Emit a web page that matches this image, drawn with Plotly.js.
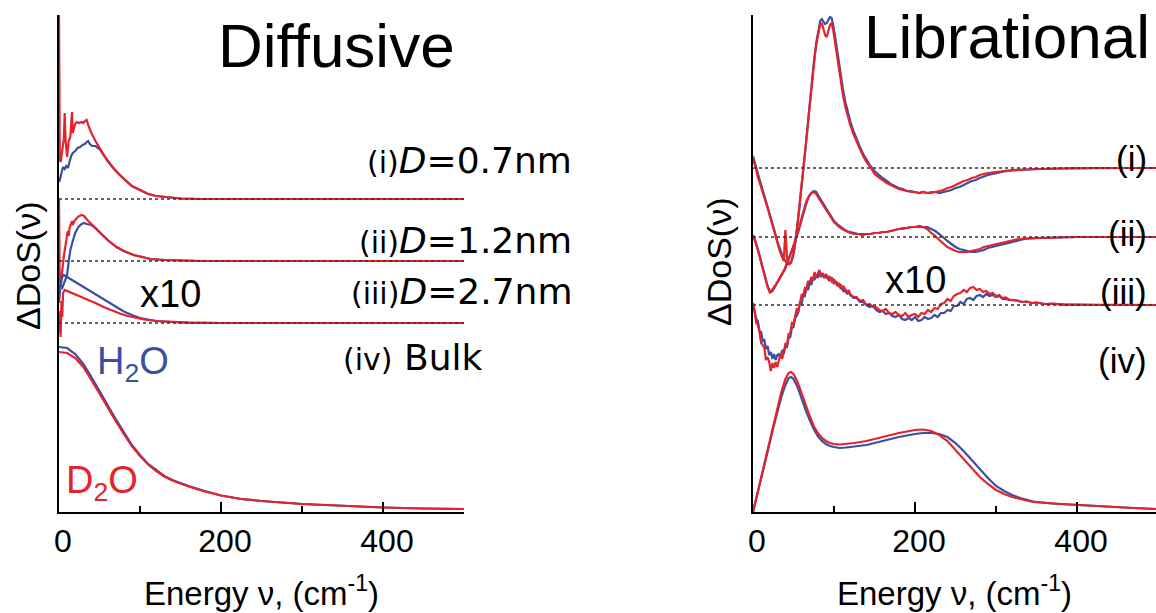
<!DOCTYPE html>
<html>
<head>
<meta charset="utf-8">
<script src="https://cdn.plot.ly/plotly-3.0.1.min.js"></script>
<style>
  html, body { margin: 0; padding: 0; background: #ffffff; }
  #chart { width: 1156px; height: 613px; }
</style>
</head>
<body>
<div id="chart"></div>
<script>
// ---------- Diffusive band (left panel), energies in cm^-1 ----------
// (i) D = 0.7 nm
const dif1H2O_E = [0, 1, 3, 5, 7, 9, 11, 13, 15, 17, 20, 23, 26, 29, 32, 34, 36, 38, 41, 45, 50, 55, 60, 65, 70, 75, 80, 90, 100, 110, 120, 135, 150, 175, 200, 250, 300, 350, 400, 450, 500];
const dif1H2O   = [17, 19, 26, 32, 30, 33, 31, 38, 43, 46, 48, 51, 52, 54, 55, 57, 58, 55, 53, 53, 50, 44, 38, 33, 28, 24, 20, 13, 9, 5, 3, 1.5, 0.5, 0, 0, 0, 0, 0, 0, 0, 0];
const dif1D2O_E = [0, 1, 2, 4, 6, 7, 8, 10, 12, 14, 16, 17, 18, 20, 22, 25, 28, 30, 32, 34, 37, 40, 45, 50, 55, 60, 65, 70, 75, 80, 90, 100, 110, 120, 135, 150, 175, 200, 250, 300, 350, 400, 450, 500];
const dif1D2O   = [184, 40, 37, 50, 60, 86, 60, 42, 58, 62, 87, 66, 70, 75, 77, 76, 77, 76, 78, 79, 72, 66, 58, 51, 44, 38, 33, 28, 24, 20, 13, 9, 5, 3, 1.5, 0.5, 0, 0, 0, 0, 0, 0, 0, 0];
// (ii) D = 1.2 nm
const dif2H2O_E = [0, 2, 4, 7, 10, 12, 14, 17, 20, 24, 28, 31, 34, 40, 45, 51, 60, 71, 80, 92, 100, 113, 130, 150, 175, 200, 300, 400, 500];
const dif2H2O   = [-20, -26, -27, -20, -14, 0, 11, 20, 28, 34, 37, 38, 37, 36, 33, 28, 21, 14, 10, 6, 4.5, 2, 1, 0.3, 0, 0, 0, 0, 0];
const dif2D2O_E = [0, 1, 2, 4, 6, 8, 10, 11, 12, 13, 15, 16, 17, 19, 22, 25, 28, 31, 35, 40, 45, 51, 60, 71, 80, 92, 100, 113, 130, 150, 175, 200, 300, 400, 500];
const dif2D2O   = [62, -30, -20, -10, 5, 18, 26, 30, 25, 33, 38, 40, 36, 40, 43, 45, 46, 45, 41, 37, 33, 28, 21, 14, 10, 6, 4.5, 2, 1, 0.3, 0, 0, 0, 0, 0];
// (iii) D = 2.7 nm, scaled x10
const dif3H2O_E = [0, 2, 4, 6, 10, 20, 30, 40, 50, 60, 70, 80, 90, 100, 110, 120, 140, 160, 200, 300, 400, 500];
const dif3H2O   = [20, 38, 46, 48, 46, 41, 36, 31, 26, 21, 16, 11.5, 8, 5, 3.5, 2, 1, 0.3, 0, 0, 0, 0];
const dif3D2O_E = [0, 1, 2, 3, 4, 5, 7, 10, 15, 25, 35, 45, 55, 65, 75, 85, 95, 105, 120, 140, 160, 200, 300, 400, 500];
const dif3D2O   = [-10, 12, -14, 22, 6, 30, 33, 32, 30, 27, 23, 20, 16, 12.5, 9.5, 7, 5, 3.5, 2, 1, 0.3, 0, 0, 0, 0];
// (iv) bulk water
const dif4_E    = [0, 10, 20, 30, 40, 50, 60, 70, 80, 90, 100, 110, 120, 130, 140, 160, 180, 200, 225, 250, 300, 350, 400, 450, 500];
const dif4H2O   = [165, 164, 158, 148, 135, 121, 106, 93, 80, 67, 57, 48, 42, 36, 32, 26, 21, 16.5, 13, 11, 8, 6, 4.5, 3.5, 3];
const dif4D2O   = [160, 159, 154, 145, 132, 118, 104, 91, 78, 66, 56, 47.5, 41, 35.5, 31.5, 25.5, 20.5, 16.5, 13, 11, 8, 6, 4.5, 3.5, 3];

// ---------- Librational band (right panel) ----------
// (i) D = 0.7 nm
const lib1H2O_E = [0, 3, 6, 9, 12, 15, 18, 21, 24, 27, 30, 33, 36, 39, 42, 45, 48, 51, 54, 57, 60, 63, 66, 69, 72, 75, 78, 81, 83, 85, 87, 89, 91, 93, 95, 97, 99, 102, 105, 108, 111, 114, 117, 120, 124, 128, 132, 136, 140, 145, 150, 155, 160, 165, 170, 175, 180, 185, 190, 195, 200, 205, 210, 215, 220, 225, 230, 235, 240, 245, 250, 255, 260, 265, 270, 275, 280, 290, 300, 310, 320, 335, 350, 380, 420, 460, 497.5];
const lib1H2O   = [12, 3, -7, -14, -22, -30, -38, -47, -55, -64, -73, -81, -87, -92, -95, -96, -92, -82, -64, -42, -18, 4, 28, 55, 82, 105, 125, 139, 147, 149, 146, 144, 145, 148, 151, 150, 143, 128, 110, 93, 79, 66, 56, 47, 37, 28, 21, 14, 8, 2, -3, -7, -10, -13, -16, -18, -20, -21, -23, -23, -24, -25, -24, -25, -25, -24, -25, -24, -23, -22, -20, -19, -17, -15, -13, -12, -10, -7, -5, -3.5, -2.5, -1.5, -1, -0.5, 0, 0, 0];
const lib1D2O_E = [0, 3, 6, 9, 12, 15, 18, 21, 24, 27, 30, 33, 36, 38, 40, 42, 44, 47, 50, 53, 56, 59, 62, 65, 68, 71, 74, 77, 80, 83, 85, 87, 89, 91, 93, 95, 97, 99, 102, 105, 108, 111, 114, 117, 120, 124, 128, 132, 136, 140, 145, 150, 155, 160, 165, 170, 175, 180, 185, 190, 195, 200, 205, 210, 215, 220, 225, 230, 235, 240, 245, 250, 255, 260, 265, 270, 275, 280, 290, 300, 310, 320, 335, 350, 380, 420, 460, 497.5];
const lib1D2O   = [8, 2, -9, -16, -24, -32, -40, -49, -57, -66, -75, -83, -89, -93, -62, -90, -96, -95, -86, -70, -48, -24, -3, 20, 45, 72, 96, 117, 132, 143, 145, 138, 133, 131, 136, 143, 145, 138, 122, 105, 88, 73, 61, 51, 43, 34, 26, 19, 12, 6, 1, -6, -9, -12, -15, -17, -19, -21, -22, -23, -24, -24, -25, -24, -25, -24, -24, -23, -22, -20, -19, -17, -15, -13, -12, -10, -9, -7, -5, -4, -3, -2, -1.5, -1, -0.5, 0, 0, 0];
// (ii) D = 1.2 nm
const lib2_E    = [0, 3, 6, 9, 12, 15, 18, 21, 24, 27, 30, 33, 36, 39, 42, 45, 48, 51, 54, 57, 60, 63, 66, 69, 72, 75, 78, 81, 84, 87, 90, 95, 100, 105, 110, 115, 120, 125, 130, 135, 140, 145, 150, 155, 160, 165, 170, 175, 180, 185, 190, 195, 200, 205, 210, 215, 220, 225, 230, 235, 240, 245, 250, 255, 260, 265, 270, 275, 280, 285, 290, 295, 300, 305, 315, 325, 335, 350, 370, 400, 450, 497.5];
const lib2H2O   = [2, -4, -12, -21, -30, -40, -49, -55, -54, -50, -46, -42, -38, -33, -27, -21, -14, -7, 0, 8, 17, 26, 34, 40, 44, 46, 45, 41, 37, 32, 28, 22, 16, 12, 9, 6, 5, 4, 3, 3, 3, 3, 4, 4, 5, 5, 6, 7, 8, 9, 9, 10, 10, 10, 10, 10, 8, 6, 3, -1, -4, -7, -10, -12, -13, -14, -15, -15, -14, -13, -11, -10, -9, -8, -5.5, -3.5, -2, -1, -0.5, 0, 0, 0];
const lib2D2O   = [1, -5, -13, -22, -31, -41, -50, -56, -53, -49, -45, -41, -37, -32, -26, -20, -13, -6, 1, 10, 19, 28, 36, 41, 44, 45, 43, 39, 35, 31, 27, 21, 15, 11, 8, 6, 4, 3, 3, 2, 3, 3, 4, 4, 5, 5, 6, 7, 8, 8, 9, 10, 10, 11, 10, 8, 4, 1, -3, -7, -10, -12, -14, -15, -15, -15, -14, -13, -12, -10, -9, -8, -7, -6, -4, -2.5, -1.5, -1, -0.5, 0, 0, 0];
// (iii) D = 2.7 nm, scaled x10 (noisy)
const lib3_E    = [0, 2, 4, 6, 8, 10, 12, 14, 16, 18, 20, 22, 24, 26, 28, 30, 32, 34, 36, 38, 40, 42, 44, 46, 48, 50, 52, 54, 56, 58, 60, 62, 64, 66, 68, 70, 72, 74, 76, 78, 80, 82, 84, 86, 88, 90, 92, 94, 96, 98, 100, 102, 104, 106, 108, 110, 112, 114, 116, 118, 120, 124, 128, 132, 136, 140, 144, 148, 152, 156, 160, 164, 168, 172, 176, 180, 184, 188, 192, 196, 200, 204, 208, 212, 216, 220, 224, 228, 232, 236, 240, 244, 248, 252, 256, 260, 264, 268, 272, 276, 280, 284, 288, 292, 296, 300, 304, 308, 312, 316, 320, 326, 332, 338, 344, 350, 360, 370, 385, 400, 430, 460, 497.5];
const lib3H2O   = [2, -5, -14, -16, -26, -27, -36, -35, -44, -41, -50, -47, -54, -49, -55, -50, -49, -53, -45, -49, -41, -42, -33, -32, -23, -22, -13, -11, -7, 2, 1, 10, 9, 17, 15, 23, 20, 27, 25, 30, 27, 32, 28, 31, 27, 30, 26, 29, 24, 26, 22, 24, 19, 22, 17, 18, 13, 16, 11, 13, 10, 7, 7, 3, 3, 0, -2, -1, -5, -7, -6, -9, -8, -11, -12, -10, -14, -15, -13, -15, -12, -16, -15, -12, -14, -13, -10, -12, -8, -8, -5, -6, -1, -1, 3, 1, 6, 7, 5, 9, 10, 8, 11, 9, 10, 8, 9, 6, 6, 5, 5, 4.5, 3, 3.5, 2, 2.5, 1, 1.2, 0.3, 0.5, 0, 0.2, 0];
const lib3D2O   = [0, -7, -18, -20, -27, -38, -40, -43, -55, -52, -57, -66, -58, -63, -57, -62, -55, -49, -54, -45, -39, -40, -29, -28, -18, -19, -10, -4, -5, 4, 10, 9, 17, 16, 24, 22, 28, 25, 33, 28, 32, 35, 29, 32, 27, 31, 28, 24, 28, 22, 26, 21, 23, 18, 21, 15, 19, 14, 12, 15, 11, 8, 8, 4, 5, 0, 1, -2, -2, -5, -6, -4, -8, -9, -7, -10, -11, -8, -12, -10, -9, -12, -8, -9, -5, -7, -3, -4, 1, 2, 6, 4, 9, 11, 12, 15, 13, 17, 18, 15, 16, 13, 14, 11, 12, 9, 10, 7, 7.5, 5.5, 5, 4.5, 3, 3.5, 2, 2.5, 1, 1.3, 0.3, 0.4, 0, 0.2, 0];
// (iv) bulk water
const lib4_E    = [0, 5, 10, 15, 20, 25, 30, 35, 40, 44, 47, 50, 55, 60, 65, 70, 75, 80, 85, 90, 95, 100, 107, 115, 125, 140, 160, 180, 200, 210, 220, 230, 240, 250, 260, 270, 280, 290, 300, 310, 320, 330, 346, 370, 400, 430, 470, 497.5];
const lib4H2O   = [0, 16, 33, 50, 67, 84, 100, 115, 127, 134, 135, 133, 125, 113, 102, 92, 83, 76, 71, 68, 66, 65, 64, 64.5, 65.5, 67, 71, 75, 78, 79, 79, 78, 75, 69, 61, 52, 42, 34, 26, 21, 17, 14, 10.5, 8.5, 7, 5.5, 4, 3];
const lib4D2O   = [0, 17, 35, 52, 70, 87, 104, 120, 133, 139, 140, 138, 130, 118, 106, 96, 86, 79, 74, 71, 69, 68, 67.5, 68, 69, 71, 75, 79, 82, 82.5, 81, 77, 71, 62, 53, 44, 35, 28, 22, 18, 15, 13, 10, 8.5, 7, 5.5, 4, 3];

// ---------- Drawing ----------
const W = 1156, H = 613;
const fx = p => p / W;          // pixel column -> paper fraction
const fy = p => 1 - p / H;      // pixel row -> paper fraction
const BLUE = '#3b4fa2', RED = '#e4232b';
const FONT = 'Liberation Sans, Arial, sans-serif';
const WIDE = 'DejaVu Sans, Verdana, sans-serif';

const PLOT_TOP = 15, PLOT_BOTTOM = 512;     // rows of the plotting area
// rows of the zero line for the stacked curves (i), (ii), (iii), (iv)
const difRows = [199, 261, 323, 512];
const libRows = [168, 237, 305, 512];
const axisRange = row => [row - PLOT_BOTTOM, row - PLOT_TOP];

const difAxes = ['y3', 'y4', 'y5', 'y'];
const libAxes = ['y6', 'y7', 'y8', 'y2'];

function line(x, y, xa, ya, color) {
  return { x, y, xaxis: xa, yaxis: ya, type: 'scatter', mode: 'lines',
           line: { color, width: 2.2 }, hoverinfo: 'skip', showlegend: false };
}

const traces = [
  line(dif1H2O_E, dif1H2O, 'x', 'y3', BLUE), line(dif1D2O_E, dif1D2O, 'x', 'y3', RED),
  line(dif2H2O_E, dif2H2O, 'x', 'y4', BLUE), line(dif2D2O_E, dif2D2O, 'x', 'y4', RED),
  line(dif3H2O_E, dif3H2O, 'x', 'y5', BLUE), line(dif3D2O_E, dif3D2O, 'x', 'y5', RED),
  line(dif4_E, dif4H2O, 'x', 'y', BLUE),     line(dif4_E, dif4D2O, 'x', 'y', RED),
  line(lib1H2O_E, lib1H2O, 'x2', 'y6', BLUE), line(lib1D2O_E, lib1D2O, 'x2', 'y6', RED),
  line(lib2_E, lib2H2O, 'x2', 'y7', BLUE),    line(lib2_E, lib2D2O, 'x2', 'y7', RED),
  line(lib3_E, lib3H2O, 'x2', 'y8', BLUE),    line(lib3_E, lib3D2O, 'x2', 'y8', RED),
  line(lib4_E, lib4H2O, 'x2', 'y2', BLUE),    line(lib4_E, lib4D2O, 'x2', 'y2', RED)
];

const yDomain = [fy(PLOT_BOTTOM), fy(PLOT_TOP)];
const xCommon = {
  range: [0, 500], showline: true, linecolor: '#000', linewidth: 2,
  showgrid: false, zeroline: false, ticks: 'inside', ticklen: 10, tickwidth: 2, tickcolor: '#000',
  tickvals: [0, 200, 400], ticktext: ['0', '200', '400'],
  tickfont: { family: FONT, size: 32, color: '#000' }, ticklabelshift: 4,
  minor: { tickvals: [100, 300], ticks: 'inside', ticklen: 6, tickwidth: 2, tickcolor: '#000' },
  fixedrange: true
};
const yMain = {
  domain: yDomain, showline: true, linecolor: '#000', linewidth: 2,
  showgrid: false, zeroline: false, ticks: '', showticklabels: false, fixedrange: true
};
const yHidden = { visible: false, showgrid: false, zeroline: false, fixedrange: true };

const layout = {
  width: W, height: H, margin: { l: 0, r: 0, t: 0, b: 0 },
  paper_bgcolor: '#fff', plot_bgcolor: 'rgba(0,0,0,0)', showlegend: false,
  xaxis:  Object.assign({}, xCommon, { domain: [fx(59), fx(464)], anchor: 'y' }),
  xaxis2: Object.assign({}, xCommon, { domain: [fx(753), 1], range: [0, 497.5], anchor: 'y2' }),
  yaxis:  Object.assign({}, yMain, { anchor: 'x',  range: axisRange(difRows[3]) }),
  yaxis2: Object.assign({}, yMain, { anchor: 'x2', range: axisRange(libRows[3]) }),
  shapes: [], annotations: []
};
[0, 1, 2].forEach(k => {
  layout['yaxis' + difAxes[k].slice(1)] = Object.assign({}, yHidden,
    { overlaying: 'y', anchor: 'x', range: axisRange(difRows[k]) });
  layout['yaxis' + libAxes[k].slice(1)] = Object.assign({}, yHidden,
    { overlaying: 'y2', anchor: 'x2', range: axisRange(libRows[k]) });
  // dotted zero lines of the difference spectra
  layout.shapes.push({ type: 'line', xref: 'x', yref: difAxes[k], x0: 0, x1: 500, y0: 0, y1: 0,
    layer: 'above', line: { color: '#333', width: 1.5, dash: 'dot' } });
  layout.shapes.push({ type: 'line', xref: 'x2', yref: libAxes[k], x0: 0, x1: 497.5, y0: 0, y1: 0,
    layer: 'above', line: { color: '#333', width: 1.5, dash: 'dot' } });
});

function label(text, px, py, size, opts) {
  layout.annotations.push(Object.assign({
    text, xref: 'paper', yref: 'paper', x: fx(px), y: fy(py),
    xanchor: 'center', yanchor: 'middle', showarrow: false,
    font: { family: FONT, size, color: '#000' }
  }, opts || {}));
}

// panel titles
label('Diffusive', 336, 45, 62);
label('Librational', 1007, 37, 62);

// sample labels, diffusive panel
const small = s => '<span style="font-size:30px">' + s + '</span>';
const wide = { xanchor: 'right', font: { family: WIDE, size: 36, color: '#000' } };
label(small('(i)') + '<i>D</i>=0.7nm', 574, 160, 36, wide);
label(small('(ii)') + '<i>D</i>=1.2nm', 574, 240, 36, wide);
label(small('(iii)') + '<i>D</i>=2.7nm', 574, 291, 36, wide);
label(small('(iv)') + ' Bulk', 484, 357, 36, wide);

// sample labels, librational panel
label('(i)', 1149, 158, 35, { xanchor: 'right' });
label('(ii)', 1149, 233, 35, { xanchor: 'right' });
label('(iii)', 1149, 292, 35, { xanchor: 'right' });
label('(iv)', 1149, 360, 35, { xanchor: 'right' });

// scale factor notes
label('x10', 170, 294, 38);
label('x10', 915, 280, 38);

// isotope labels
label('H<sub>2</sub>O', 133, 364, 38, { font: { family: FONT, size: 38, color: BLUE } });
label('D<sub>2</sub>O', 102, 483, 38, { font: { family: FONT, size: 38, color: RED } });

// axis titles
label('ΔDoS(ν)', 28, 266, 34, { textangle: -90 });
label('ΔDoS(ν)', 719, 262, 34, { textangle: -90 });
label('Energy ν, (cm<sup>-1</sup>)', 261, 591, 33);
label('Energy ν, (cm<sup>-1</sup>)', 955, 591, 33);

Plotly.newPlot('chart', traces, layout, { staticPlot: true, displayModeBar: false });
</script>
</body>
</html>
